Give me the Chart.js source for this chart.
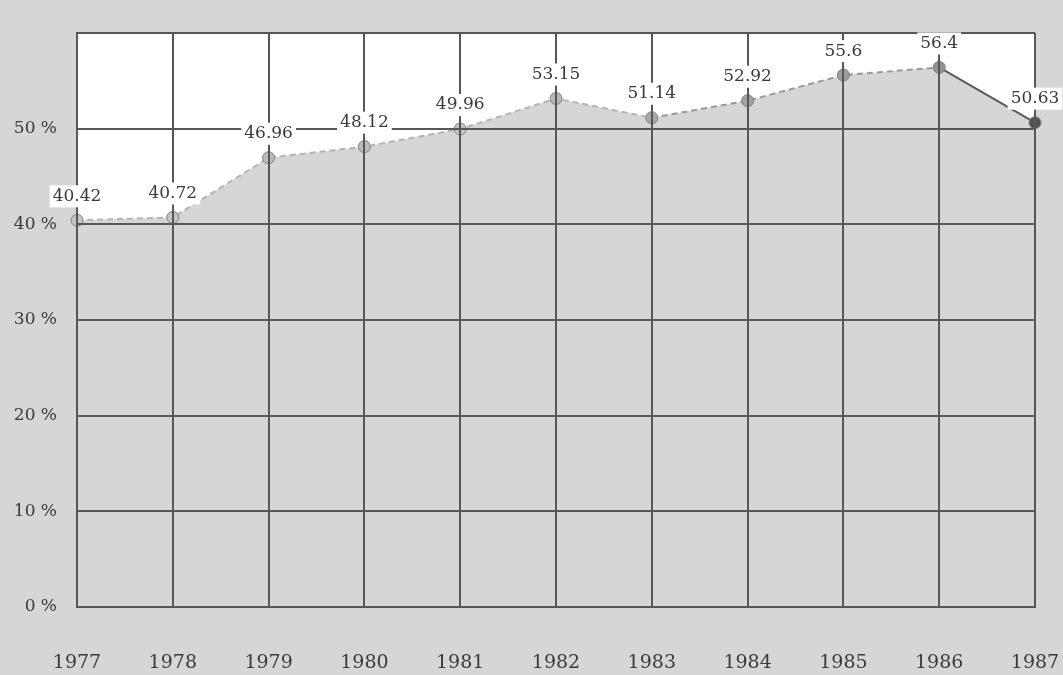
<!DOCTYPE html>
<html>
<head>
<meta charset="utf-8">
<script src="https://cdn.jsdelivr.net/npm/chart.js@4.4.1/dist/chart.umd.min.js"></script>
<style>
  html, body { margin: 0; padding: 0; background: #d6d6d6; }
  #wrap { width: 1063px; height: 675px; position: relative; }
</style>
</head>
<body>
<div id="wrap"><canvas id="c" width="1063" height="675"></canvas></div>
<script>
const years = ['1977','1978','1979','1980','1981','1982','1983','1984','1985','1986','1987'];
const shares = [40.42, 40.72, 46.96, 48.12, 49.96, 53.15, 51.14, 52.92, 55.6, 56.4, 50.63];
const yTickValues = [0, 10, 20, 30, 40, 50];
const pointColors = ['#c4c4c4','#c4c4c4','#bcbcbc','#bcbcbc','#c4c4c4','#b8b8b8','#a8a8a8','#a0a0a0','#9c9c9c','#909090','#505050'];

const serif = '"DejaVu Serif", "Liberation Serif", serif';

const valueLabels = {
  id: 'valueLabels',
  afterDraw(chart) {
    const ctx = chart.ctx;
    const meta = chart.getDatasetMeta(0);
    ctx.save();
    ctx.font = '17px ' + serif;
    ctx.textAlign = 'center';
    ctx.textBaseline = 'middle';
    meta.data.forEach((pt, i) => {
      const txt = String(shares[i]);
      const w = ctx.measureText(txt).width;
      const x = pt.x, y = pt.y - 24;
      ctx.fillStyle = '#ffffff';
      ctx.fillRect(x - w / 2 - 3, y - 11, w + 6, 22);
      ctx.fillStyle = '#3a3a3a';
      ctx.fillText(txt, x, y);
    });
    ctx.restore();
  }
};

new Chart(document.getElementById('c'), {
  type: 'line',
  data: {
    labels: years,
    datasets: [{
      data: shares,
      fill: 'end',
      backgroundColor: '#ffffff',
      borderColor: '#a8a8a8',
      borderWidth: 2,
      tension: 0,
      pointRadius: 6,
      pointBackgroundColor: pointColors,
      pointBorderColor: '#808080',
      pointBorderWidth: 1,
      segment: {
        borderColor: c => c.p0DataIndex >= 9 ? '#5a5a5a' : (c.p0DataIndex >= 6 ? '#999999' : '#b4b4b4'),
        borderDash: c => c.p0DataIndex >= 9 ? [] : [6, 4]
      }
    }]
  },
  options: {
    responsive: false,
    animation: false,
    layout: { padding: { top: 33, right: 28, left: 0, bottom: 0 } },
    plugins: { legend: { display: false }, tooltip: { enabled: false } },
    scales: {
      x: {
        offset: false,
        grid: { color: '#575757', lineWidth: 2, drawTicks: false, z: 1 },
        border: { color: '#575757', width: 2, z: 1 },
        ticks: { padding: 45, color: '#3a3a3a', font: { family: serif, size: 19 }, maxRotation: 0, autoSkip: false },
        afterFit: s => { s.height = 68; s.paddingLeft = 0; s.paddingRight = 0; }
      },
      y: {
        min: 0, max: 60,
        afterBuildTicks: s => { s.ticks = yTickValues.concat([60]).map(v => ({ value: v })); },
        grid: { color: '#575757', lineWidth: 2, drawTicks: false, z: 1 },
        border: { color: '#575757', width: 2, z: 1 },
        ticks: {
          padding: 20,
          color: '#3a3a3a',
          font: { family: serif, size: 17 },
          callback: v => (v <= 50 ? v + ' %' : '')
        },
        afterFit: s => { s.width = 77; s.paddingTop = 0; s.paddingBottom = 0; }
      }
    }
  },
  plugins: [valueLabels]
});
</script>
</body>
</html>
